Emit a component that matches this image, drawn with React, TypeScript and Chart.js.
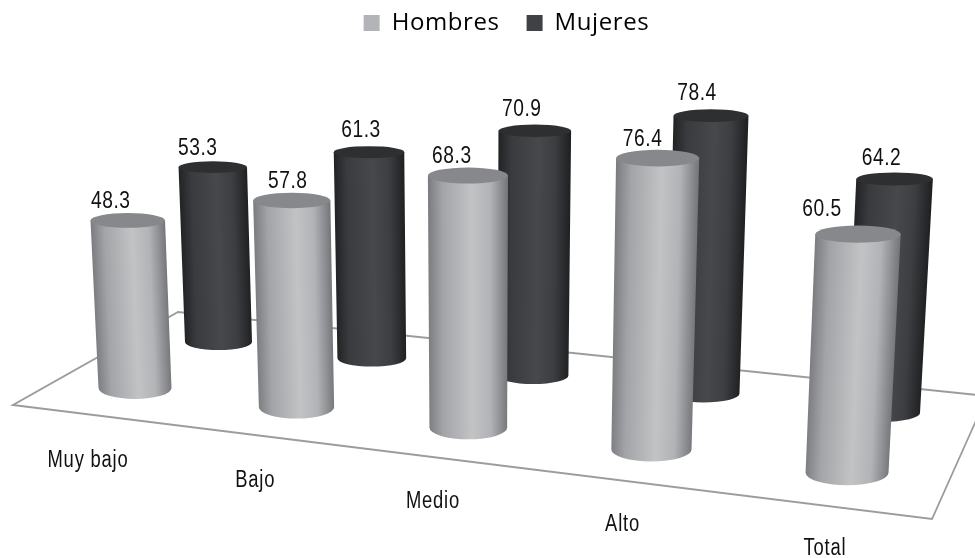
import React, { useEffect, useRef } from "react";
import { Chart, BarController, BarElement, registerables } from "chart.js";

const categories = ["Muy bajo", "Bajo", "Medio", "Alto", "Total"];
const hombres = [48.3, 57.8, 68.3, 76.4, 60.5];
const mujeres = [53.3, 61.3, 70.9, 78.4, 64.2];

// Floor rows in perspective: x(u) = (x0 + a*u) / (1 + c*u), y(u) alike, sizes scale by 1 / (1 + c*u).
const frontRow = { x0: 135, a: 152.6, y0: 388, b: 7, c: -0.03, halfWidth: 36.5, unitPx: 3.47, topRatio: 0.2, bottomRatio: 0.3 };
const backRow = { x0: 218.5, a: 144, y0: 342, b: 7.4, c: -0.025, halfWidth: 33.5, unitPx: 3.28, topRatio: 0.17, bottomRatio: 0.24 };
const labelRow = { x0: 88, a: 159.5, y0: 467, b: 5.3, c: -0.03 };

// Verticals converge on a point far below the floor.
const VANISH_X = 480;
const VANISH_DEPTH = 8000;

const floorCorners = [[13, 405], [932, 519], [987, 396], [178, 312]];

const frontShade = { side: ["#7c7d80", "#a3a4a7", "#c1c3c5", "#b2b3b6", "#75777a"], cap: "#86888b" };
const backShade = { side: ["#222325", "#3a3b3e", "#47484c", "#3d3e41", "#1f2022"], cap: "#2e2f31" };

// Hand placement of the value labels relative to each cylinder's top.
const frontLabelShift = { x: [-17, -4, -16, -15, -36], y: [-12, -12, -13, -12, -18] };
const backLabelShift = { x: [-15, -8, -13, -14, -13], y: [-12, -15, -15, -16, -14] };

// Horizontal squeeze that turns Liberation Sans into a condensed face.
const NARROW = 0.8;

const project = (row: any, u: number) => {
  const w = 1 + row.c * u;
  return { x: (row.x0 + row.a * u) / w, y: (row.y0 + row.b * u) / w, scale: 1 / w };
};

const drawNarrowText = (ctx: CanvasRenderingContext2D, text: string, x: number, y: number) => {
  ctx.save();
  ctx.translate(x, y);
  ctx.scale(NARROW, 1);
  ctx.fillText(text, 0, 0);
  ctx.restore();
};

class CylinderElement extends BarElement {
  static id = "cylinder";
  draw(ctx: CanvasRenderingContext2D) {
    const g = (this as any).geo;
    if (!g) return;
    const { bx, by, bw, bry, tx, ty, tw, tly, shade } = g;
    const midX = (bx + tx) / 2;
    const midY = (by + ty) / 2;
    const len = Math.hypot(tx - bx, ty - by) || 1;
    // Unit vector across the cylinder, pointing to its right side.
    const nx = (by - ty) / len;
    const ny = (tx - bx) / len;
    const half = (bw + tw) / 2;
    const grad = ctx.createLinearGradient(midX - nx * half, midY - ny * half, midX + nx * half, midY + ny * half);
    const stops = [0, 0.18, 0.55, 0.78, 1];
    shade.side.forEach((c: string, i: number) => grad.addColorStop(stops[i], c));

    ctx.save();
    ctx.beginPath();
    ctx.moveTo(tx - tw, ty);
    ctx.lineTo(bx - bw, by);
    ctx.ellipse(bx, by, bw, bry, 0, Math.PI, 0, true);
    ctx.lineTo(tx + tw, ty);
    ctx.closePath();
    ctx.fillStyle = grad;
    ctx.fill();
    ctx.beginPath();
    ctx.ellipse(tx, ty, tw, tly, 0, 0, Math.PI * 2);
    ctx.fillStyle = shade.cap;
    ctx.fill();
    ctx.restore();
  }
}

class CylinderController extends BarController {
  static id = "cylinder";
  static defaults = { dataElementType: "cylinder" };
  updateElements(rects: any[], start: number, count: number, mode: any) {
    super.updateElements(rects, start, count, mode);
    const ds: any = this.getDataset();
    const vScale: any = this.getMeta().vScale;
    const zero = vScale.getPixelForValue(0);
    const perUnit = (zero - vScale.getPixelForValue(vScale.max)) / vScale.max;
    for (let i = start; i < start + count; i++) {
      const el = rects[i];
      const value = ds.data[i];
      const p = project(ds.row, i);
      const h = ((zero - vScale.getPixelForValue(value)) / perUnit) * ds.row.unitPx * p.scale;
      const spread = 1 + h / VANISH_DEPTH;
      const bw = ds.row.halfWidth * p.scale;
      const tw = bw * spread;
      const tx = VANISH_X + (p.x - VANISH_X) * spread;
      el.x = p.x;
      el.y = p.y - h;
      el.base = p.y;
      el.width = bw * 2;
      el.height = h;
      el.geo = { bx: p.x, by: p.y, bw, bry: bw * ds.row.bottomRatio, tx, ty: p.y - h, tw, tly: tw * ds.row.topRatio, shade: ds.shade };
    }
  }
}

Chart.register(...registerables, CylinderElement, CylinderController);

const setLegendSpacing = {
  id: "legendSpacing",
  beforeLayout(chart: any) {
    chart.ctx.letterSpacing = "0.6px";
  },
  beforeDraw(chart: any) {
    chart.ctx.letterSpacing = "0.6px";
  },
};

const floorOutline = {
  id: "floorOutline",
  beforeDatasetsDraw(chart: any) {
    const { ctx } = chart;
    ctx.save();
    ctx.beginPath();
    floorCorners.forEach(([x, y], i) => (i ? ctx.lineTo(x, y) : ctx.moveTo(x, y)));
    ctx.closePath();
    ctx.strokeStyle = "#9b9c9e";
    ctx.lineWidth = 1.8;
    ctx.stroke();
    ctx.restore();
  },
};

const textLabels = {
  id: "textLabels",
  afterDatasetsDraw(chart: any) {
    const { ctx } = chart;
    ctx.save();
    ctx.fillStyle = "#111111";
    ctx.textAlign = "center";
    ctx.textBaseline = "alphabetic";
    ctx.font = '24px "Liberation Sans"';
    ctx.letterSpacing = "0.7px";
    chart.data.datasets.forEach((ds: any, d: number) => {
      const els = chart.getDatasetMeta(d).data;
      ds.data.forEach((v: number, i: number) => {
        const g = els[i].geo;
        drawNarrowText(ctx, v.toFixed(1), g.tx + ds.labelShift.x[i], g.ty + ds.labelShift.y[i]);
      });
    });
    ctx.font = '23px "Liberation Sans"';
    ctx.letterSpacing = "1px";
    chart.data.labels.forEach((name: string, i: number) => {
      const p = project(labelRow, i);
      drawNarrowText(ctx, name, p.x, p.y);
    });
    ctx.restore();
  },
};

export default function App() {
  const ref = useRef<HTMLCanvasElement>(null);
  useEffect(() => {
    const chart = new Chart(ref.current as HTMLCanvasElement, {
      type: "cylinder" as any,
      data: {
        labels: categories,
        datasets: [
          { label: "Hombres", data: hombres, backgroundColor: "#b3b4b8", borderWidth: 0, order: 0, clip: false, row: frontRow, shade: frontShade, labelShift: frontLabelShift },
          { label: "Mujeres", data: mujeres, backgroundColor: "#404145", borderWidth: 0, order: 1, clip: false, row: backRow, shade: backShade, labelShift: backLabelShift },
        ] as any,
      },
      options: {
        animation: false,
        responsive: false,
        layout: { padding: { left: 38, top: -16 } },
        scales: {
          x: { type: "category", display: false },
          y: { type: "linear", min: 0, max: 100, display: false },
        },
        plugins: {
          tooltip: { enabled: false },
          legend: {
            position: "top",
            labels: {
              boxWidth: 16,
              boxHeight: 16,
              padding: 27,
              color: "#000000",
              font: { family: '"Open Sans"', size: 24 },
            },
          },
        },
      } as any,
      plugins: [setLegendSpacing, floorOutline, textLabels],
    });
    return () => chart.destroy();
  }, []);
  return (
    <div style={{ position: "fixed", left: 0, top: 0, width: 975, height: 558, background: "#ffffff" }}>
      <canvas ref={ref} width={975} height={558} style={{ display: "block" }} />
    </div>
  );
}
